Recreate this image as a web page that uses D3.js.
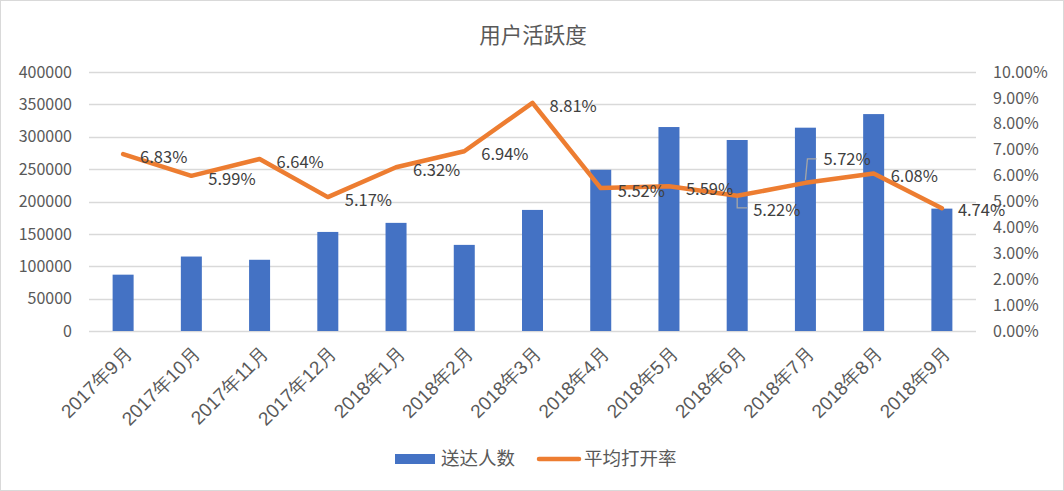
<!DOCTYPE html>
<html><head><meta charset="utf-8">
<script src="https://cdn.jsdelivr.net/npm/d3@7"></script>
<style>body{margin:0;background:#fff}svg{display:block;font-family:"Noto Sans CJK SC","Noto Sans",sans-serif}</style>
</head><body><svg id="c" width="1064" height="491"></svg>
<script>
const categories = ["2017年9月","2017年10月","2017年11月","2017年12月","2018年1月","2018年2月","2018年3月","2018年4月","2018年5月","2018年6月","2018年7月","2018年8月","2018年9月"];
const sent = [87000,115000,110000,153000,167000,133000,187000,249000,315000,295000,314000,335000,189000];
const openRate = [6.83,5.99,6.64,5.17,6.32,6.94,8.81,5.52,5.59,5.22,5.72,6.08,4.74];
const leftTicks = [0,50000,100000,150000,200000,250000,300000,350000,400000];
const rightTicks = [0,1,2,3,4,5,6,7,8,9,10];
const title = "用户活跃度";
const seriesNames = ["送达人数","平均打开率"];

const svg = d3.select("#c");
const W=1064,H=491;
const m={l:89,r:976,t:72,b:331};
const txt="#595959";
svg.append("rect").attr("x",0.5).attr("y",0.5).attr("width",W-1).attr("height",H-1).attr("fill","#fff").attr("stroke","#d9d9d9");

const x=d3.scaleBand().domain(categories).range([m.l,m.r]).paddingInner(0).paddingOuter(0);
const yL=d3.scaleLinear().domain([0,400000]).range([m.b,m.t]);
const yR=d3.scaleLinear().domain([0,10]).range([m.b,m.t]);

svg.append("text").attr("x",533).attr("y",35).attr("dy","0.35em").attr("text-anchor","middle").attr("font-size",21.5).attr("fill",txt).text(title);

// gridlines
svg.append("g").selectAll("line").data(leftTicks).join("line")
 .attr("x1",m.l).attr("x2",m.r).attr("y1",d=>Math.round(yL(d))+0.5).attr("y2",d=>Math.round(yL(d))+0.5)
 .attr("stroke","#d9d9d9").attr("stroke-width",1.3);

// left axis labels
const gl=svg.append("g").attr("transform",`translate(${m.l},0)`).call(d3.axisLeft(yL).tickValues(leftTicks).tickSize(0).tickPadding(17).tickFormat(d=>String(d)));
gl.select(".domain").remove();
gl.selectAll("text").attr("font-size",16).attr("fill",txt).attr("font-family","'Noto Sans CJK SC',sans-serif");

const gr=svg.append("g").attr("transform",`translate(${m.r},0)`).call(d3.axisRight(yR).tickValues(rightTicks).tickSize(0).tickPadding(17).tickFormat(d=>d.toFixed(2)+"%"));
gr.select(".domain").remove();
gr.selectAll("text").attr("font-size",16).attr("fill",txt).attr("font-family","'Noto Sans CJK SC',sans-serif");

// bars
const bw=21;
svg.append("g").selectAll("rect").data(sent).join("rect")
 .attr("x",(d,i)=>x(categories[i])+x.bandwidth()/2-bw/2).attr("width",bw)
 .attr("y",d=>yL(d)).attr("height",d=>m.b-yL(d)).attr("fill","#4472C4");

// x labels
const gx=svg.append("g").attr("transform",`translate(0,${m.b})`).call(d3.axisBottom(x).tickSize(0).tickPadding(0));
gx.select(".domain").remove();
gx.selectAll("text").attr("font-size",19).attr("fill",txt).attr("text-anchor","end")
 .attr("dy",0).attr("transform","translate(10,24) rotate(-45)");

// line
const cx=i=>x(categories[i])+x.bandwidth()/2;
const line=d3.line().x((d,i)=>cx(i)).y(d=>yR(d));
svg.append("path").datum(openRate).attr("d",line).attr("fill","none").attr("stroke","#ED7D31").attr("stroke-width",4.5).attr("stroke-linejoin","round").attr("stroke-linecap","round");

// data labels
const offs = openRate.map(()=>({dx:17,dy:3}));
offs[9]={dx:16,dy:14,leader:"down"};
offs[10]={dx:18,dy:-24,leader:"up"};
offs[12]={dx:16,dy:2};
const lg=svg.append("g");
openRate.forEach((v,i)=>{
  const px=cx(i),py=yR(v),o=offs[i];
  if(o.leader==="down"){
    lg.append("path").attr("d",`M${px},${py+2}V${py+o.dy-2}H${px+o.dx-6}`).attr("fill","none").attr("stroke","#a6a6a6").attr("stroke-width",1.3);
  } else if(o.leader==="up"){
    lg.append("path").attr("d",`M${px},${py-3}L${px+2},${py+o.dy}H${px+o.dx-7}`).attr("fill","none").attr("stroke","#a6a6a6").attr("stroke-width",1.3);
  }
  lg.append("text").attr("x",px+o.dx).attr("y",py+o.dy).attr("dy","0.35em").attr("font-size",16.5).attr("fill","#404040").text(v.toFixed(2)+"%");
});

// legend
const lgd=svg.append("g");
lgd.append("rect").attr("x",395).attr("y",454).attr("width",40).attr("height",10).attr("fill","#4472C4");
lgd.append("text").attr("x",441).attr("y",459).attr("dy","0.35em").attr("font-size",18.5).attr("fill",txt).text(seriesNames[0]);
lgd.append("line").attr("x1",539).attr("x2",579).attr("y1",459).attr("y2",459).attr("stroke","#ED7D31").attr("stroke-width",4.5).attr("stroke-linecap","round");
lgd.append("text").attr("x",584).attr("y",459).attr("dy","0.35em").attr("font-size",18.5).attr("fill",txt).text(seriesNames[1]);
</script></body></html>
